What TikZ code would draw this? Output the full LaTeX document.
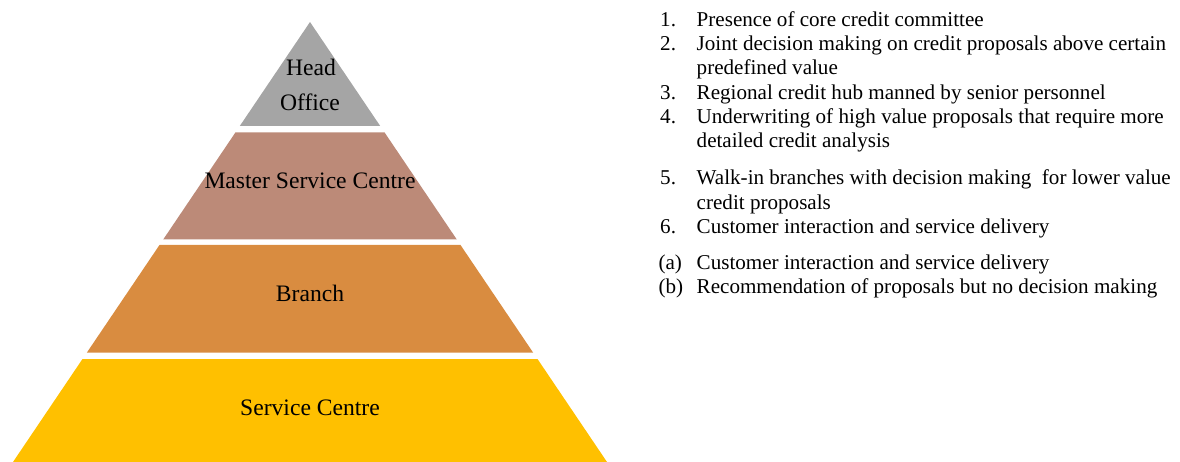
\documentclass[tikz,border=0pt]{standalone}
\usepackage{fontspec}
\setmainfont{Liberation Serif}
\definecolor{headgray}{HTML}{A5A5A5}
\definecolor{masterbrown}{HTML}{BC8A78}
\definecolor{branchorange}{HTML}{D98C40}
\definecolor{serviceyellow}{HTML}{FFC000}
\newcommand\twolines[2]{\vtop{\hbox{#1}\hbox{#2}}}
\tikzset{
  layertext/.style={anchor=base, inner sep=0pt, font=\fontsize{23.6}{34.7}\selectfont},
  numlabel/.style={anchor=base west, inner sep=0pt, font=\fontsize{21.1}{24.1}\selectfont},
  itemtext/.style={anchor=base west, inner sep=0pt, font=\fontsize{21.1}{24.1}\selectfont},
}
\begin{document}
\begin{tikzpicture}[x=1pt,y=-1pt]
\useasboundingbox (0,0) rectangle (1180,462);
% pyramid layers
\fill[headgray] (310,22) -- (380.2,126) -- (239.8,126) -- cycle;
\fill[masterbrown] (235.4,132.5) -- (384.6,132.5) -- (456.8,239.5) -- (163.2,239.5) -- cycle;
\fill[branchorange] (159.5,245) -- (460.5,245) -- (533.2,352.7) -- (86.8,352.7) -- cycle;
\fill[serviceyellow] (82.5,359) -- (537.5,359) -- (607,462) -- (13,462) -- cycle;
% layer labels
\node[layertext] (head) at (311,76) {Head};
\node[layertext] (office) at (310,110.7) {Office};
\node[layertext] (master) at (310,188.3) {Master Service Centre};
\node[layertext] (branch) at (310,301.7) {Branch};
\node[layertext] (service) at (310,415) {Service Centre};
% list
\node[numlabel] (n1) at (660,26.7) {1.};
\node[itemtext] (t1) at (696.5,26.7) {Presence of core credit committee};
\node[numlabel] (n2) at (660,50.7) {2.};
\node[itemtext] (t2) at (696.5,50.7) {\twolines{Joint decision making on credit proposals above certain}{predefined value}};
\node[numlabel] (n3) at (660,99.2) {3.};
\node[itemtext] (t3) at (696.5,99.2) {Regional credit hub manned by senior personnel};
\node[numlabel] (n4) at (660,123.3) {4.};
\node[itemtext] (t4) at (696.5,123.3) {\twolines{Underwriting of high value proposals that require more}{detailed credit analysis}};
\node[numlabel] (n5) at (660,185) {5.};
\node[itemtext] (t5) at (696.5,185) {\twolines{Walk-in branches with decision making~ for lower value}{credit proposals}};
\node[numlabel] (n6) at (660,233.3) {6.};
\node[itemtext] (t6) at (696.5,233.3) {Customer interaction and service delivery};
\node[numlabel] (na) at (658.3,269.3) {(a)};
\node[itemtext] (ta) at (696.5,269.3) {Customer interaction and service delivery};
\node[numlabel] (nb) at (658.3,293.2) {(b)};
\node[itemtext] (tb) at (696.5,293.2) {Recommendation of proposals but no decision making};
\end{tikzpicture}
\end{document}
